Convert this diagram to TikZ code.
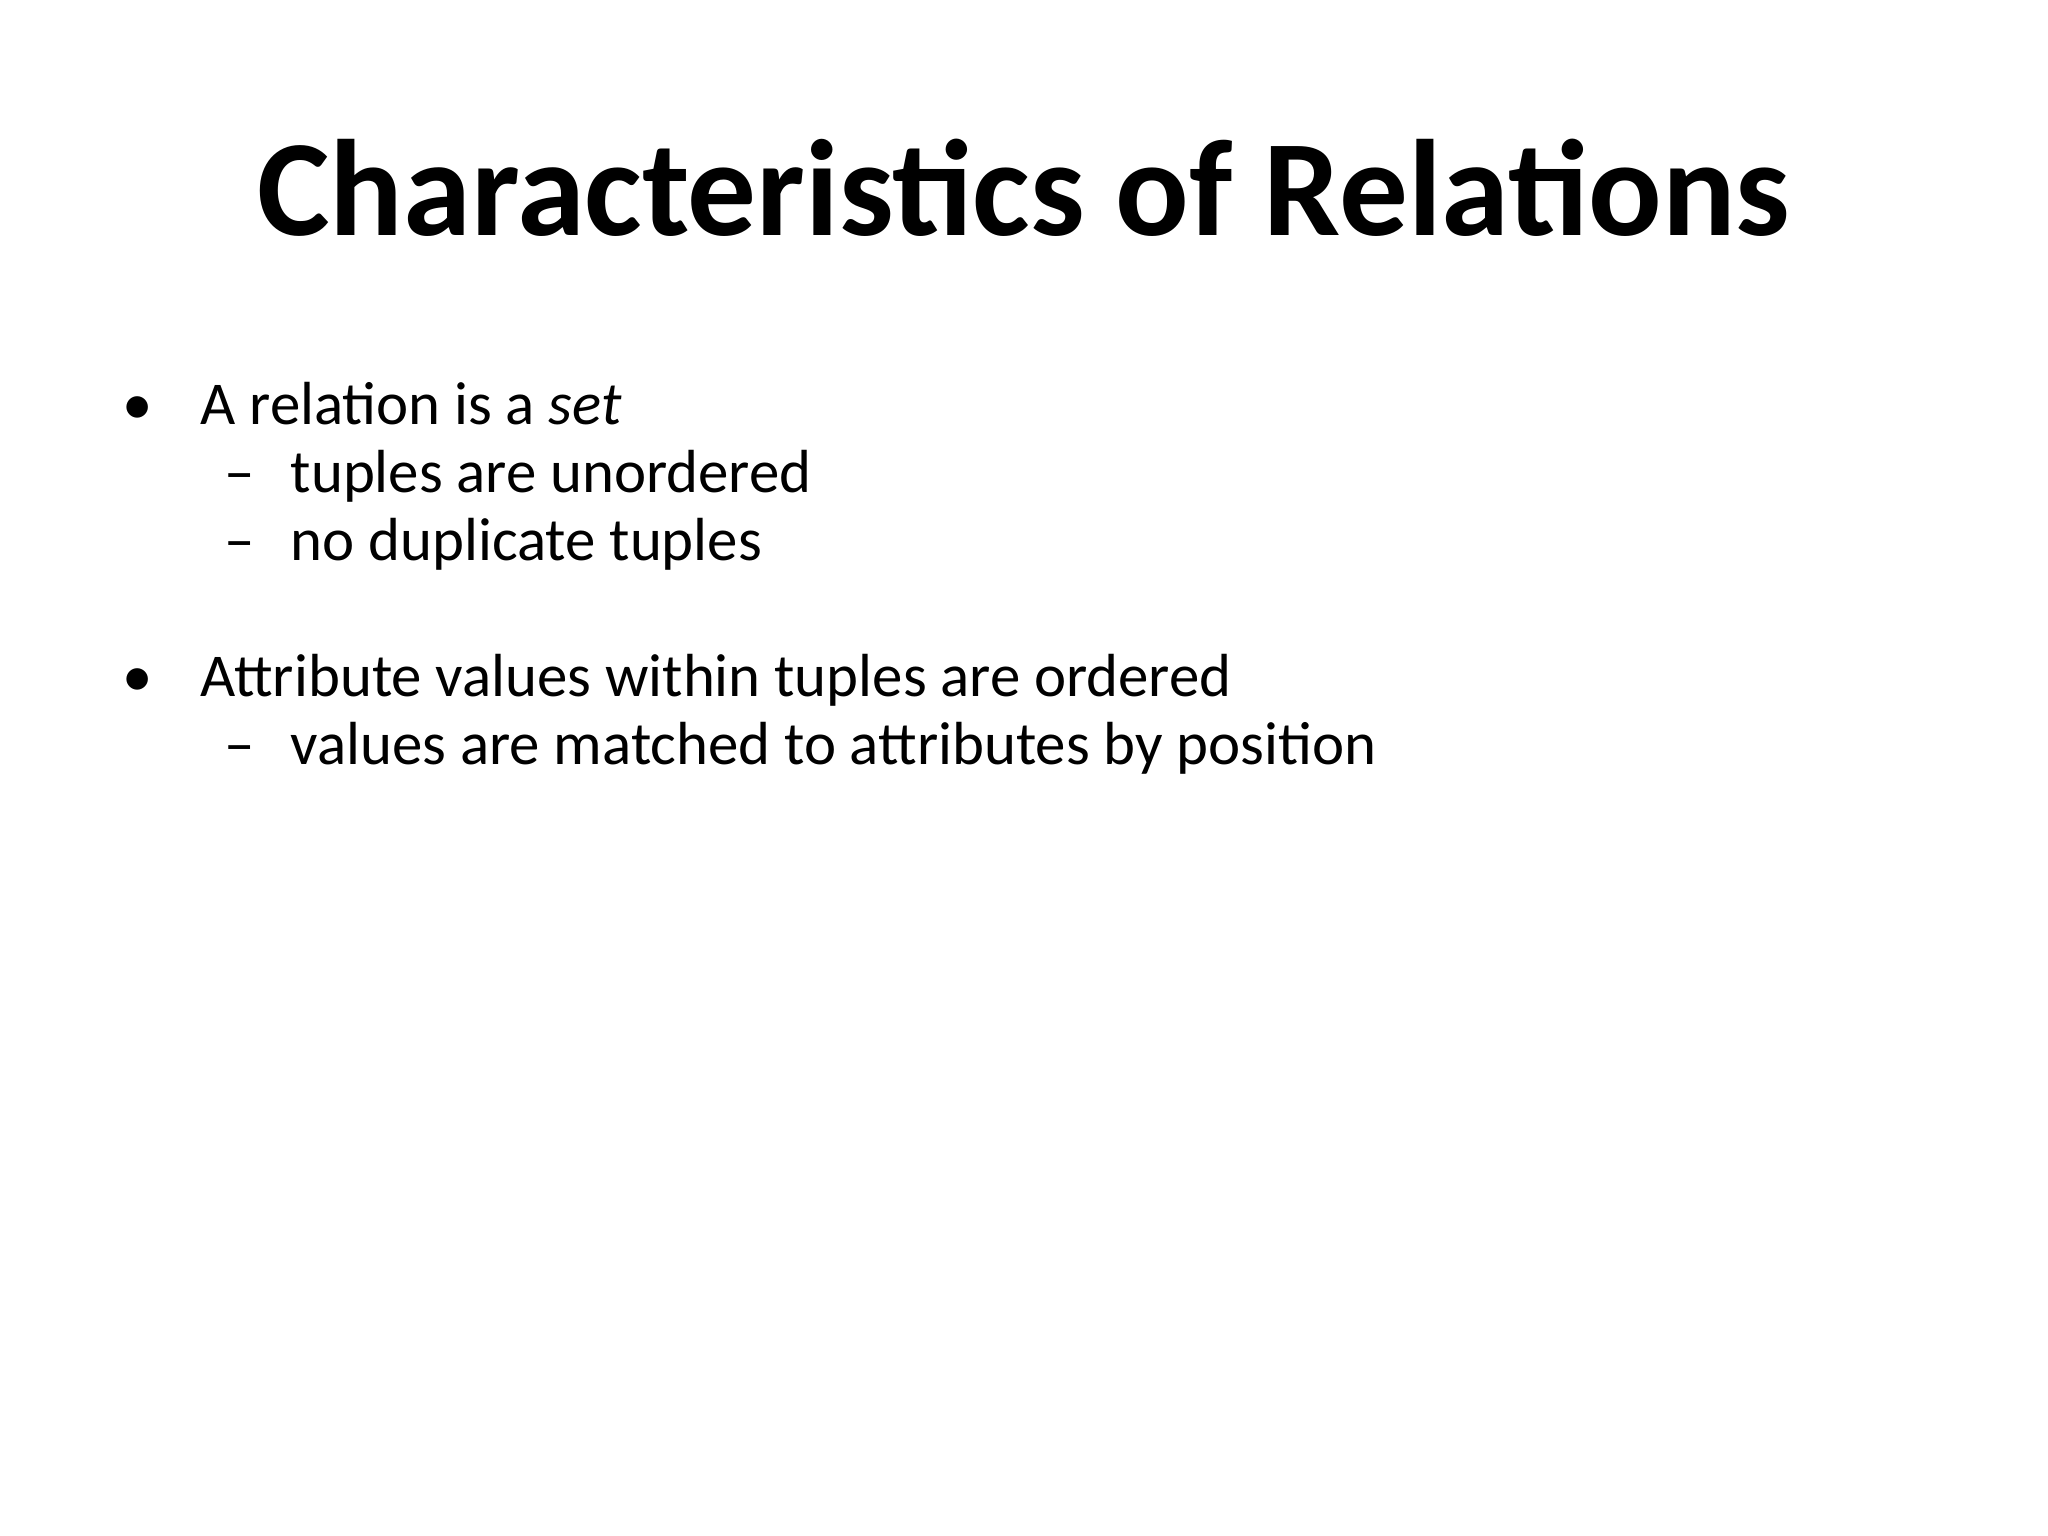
\documentclass[tikz,border=0pt]{standalone}
\usepackage{fontspec}
\setmainfont{Carlito}
\begin{document}
\begin{tikzpicture}[x=0.01cm,y=-0.01cm,
  txt/.style={anchor=base west,inner sep=0pt,font=\fontsize{17.3}{20}\selectfont}]
\useasboundingbox (0,0) rectangle (2048,1536);
\node[anchor=base,inner sep=0pt,font=\fontsize{39}{44}\selectfont\bfseries] (title) at (1024,235) {Characteristics of Relations};
\node[txt] (b1) at (122,424) {•};
\node[txt] (t1) at (200,424) {A relation is a \textit{set}};
\node[txt] (d2) at (224,492) {–};
\node[txt] (t2) at (290,492) {tuples are unordered};
\node[txt] (d3) at (224,560) {–};
\node[txt] (t3) at (290,560) {no duplicate tuples};
\node[txt] (b4) at (122,696) {•};
\node[txt] (t4) at (200,696) {Attribute values within tuples are ordered};
\node[txt] (d5) at (224,764) {–};
\node[txt] (t5) at (290,764) {values are matched to attributes by position};
\end{tikzpicture}
\end{document}
